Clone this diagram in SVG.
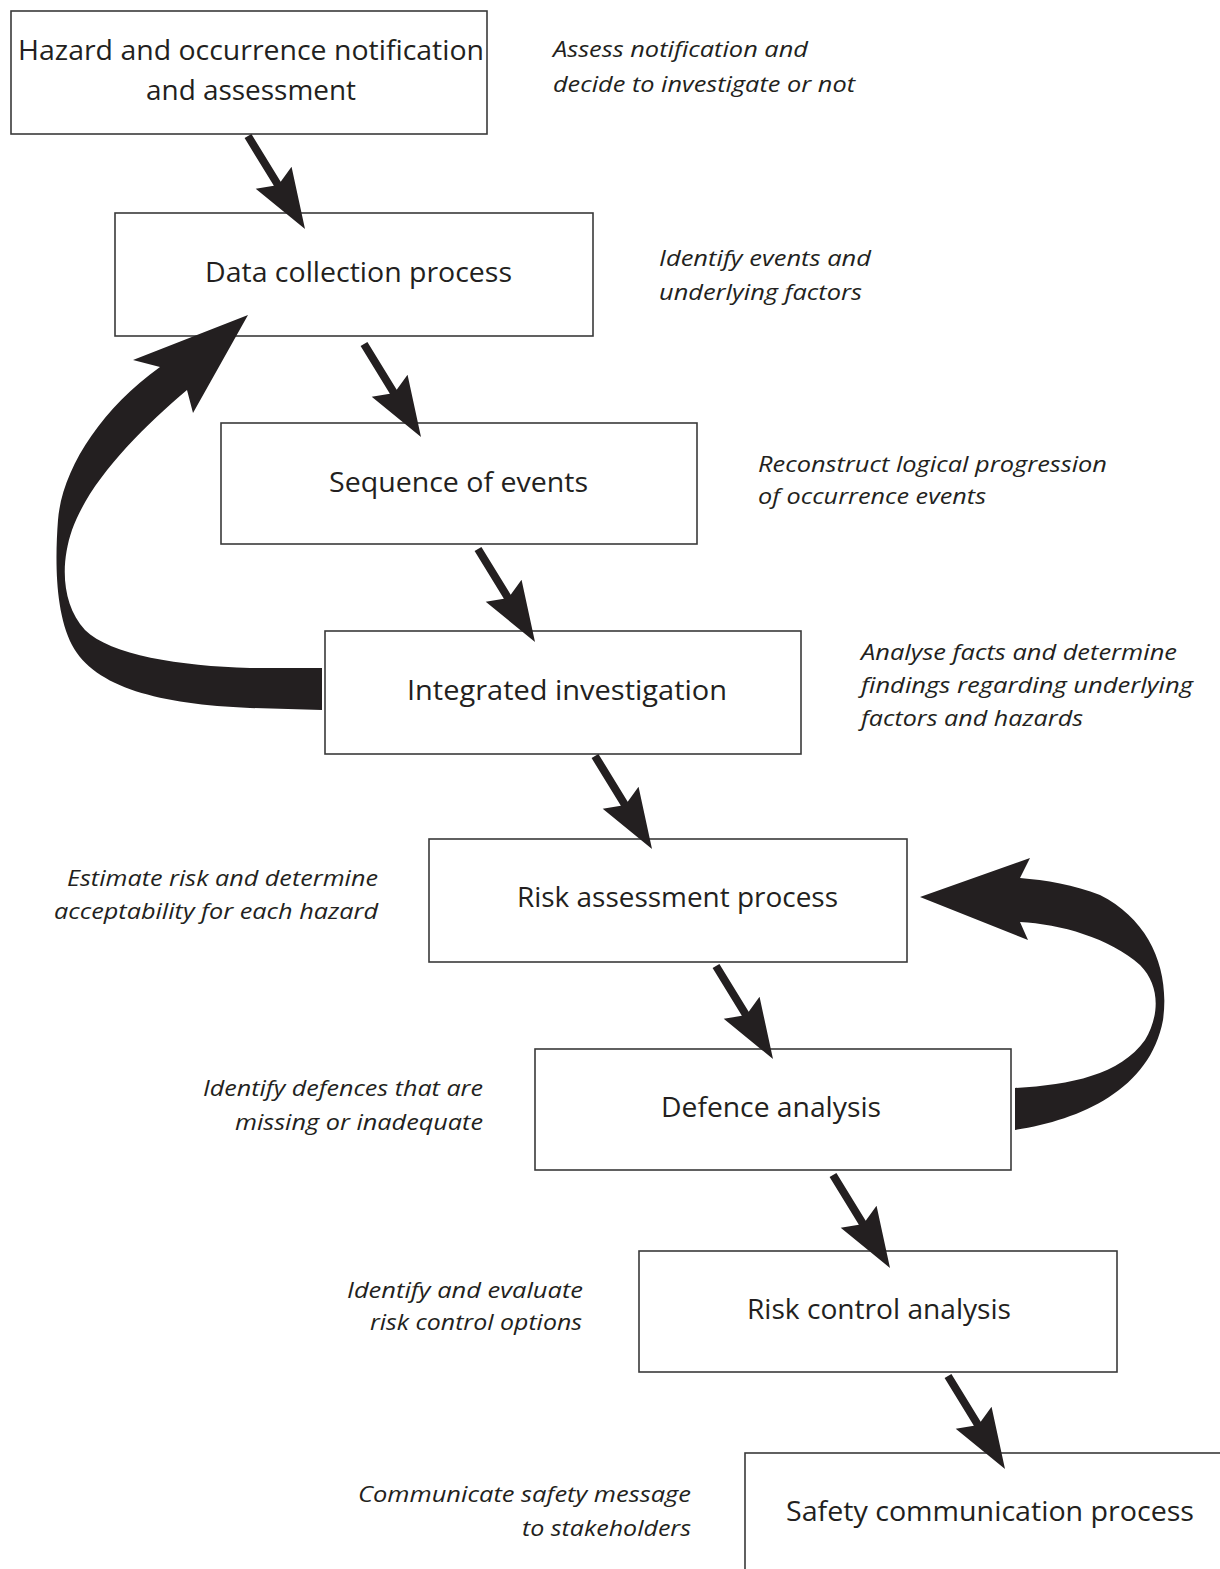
<svg xmlns="http://www.w3.org/2000/svg" xmlns:xlink="http://www.w3.org/1999/xlink" width="1220" height="1569" viewBox="0 0 1220 1569">
<style>
.box{fill:#fff;stroke:#3a3a3a;stroke-width:1.6}
.nt{font-family:"Open Sans","Noto Sans",sans-serif;font-size:27px;fill:#231f20}
.it{font-family:"Open Sans","Noto Sans",sans-serif;font-style:italic;font-size:22px;fill:#231f20}
.blk{fill:#231f20}
</style>
<defs>
<path id="arr" d="M-3.41,2.09 L25.88,49.86 L7.72,52.78 L57,93 L43.54,30.82 L32.7,45.68 L3.41,-2.09 Z"/>
</defs>
<rect width="1220" height="1569" fill="#fff"/>
<g id="n1"><rect class="box" x="11" y="11" width="476" height="123"/>
<text class="nt" x="18" y="60" textLength="466" lengthAdjust="spacingAndGlyphs">Hazard and occurrence notification</text>
<text class="nt" x="146" y="100" textLength="210" lengthAdjust="spacingAndGlyphs">and assessment</text></g>
<g id="n2"><rect class="box" x="115" y="213" width="478" height="123"/>
<text class="nt" x="205" y="282" textLength="307" lengthAdjust="spacingAndGlyphs">Data collection process</text></g>
<g id="n3"><rect class="box" x="221" y="423" width="476" height="121"/>
<text class="nt" x="329" y="492" textLength="259" lengthAdjust="spacingAndGlyphs">Sequence of events</text></g>
<g id="n4"><rect class="box" x="325" y="631" width="476" height="123"/>
<text class="nt" x="407" y="700" textLength="320" lengthAdjust="spacingAndGlyphs">Integrated investigation</text></g>
<g id="n5"><rect class="box" x="429" y="839" width="478" height="123"/>
<text class="nt" x="517" y="907" textLength="321" lengthAdjust="spacingAndGlyphs">Risk assessment process</text></g>
<g id="n6"><rect class="box" x="535" y="1049" width="476" height="121"/>
<text class="nt" x="661" y="1117" textLength="220" lengthAdjust="spacingAndGlyphs">Defence analysis</text></g>
<g id="n7"><rect class="box" x="639" y="1251" width="478" height="121"/>
<text class="nt" x="747" y="1319" textLength="264" lengthAdjust="spacingAndGlyphs">Risk control analysis</text></g>
<g id="n8"><rect class="box" x="745" y="1453" width="480" height="130"/>
<text class="nt" x="786" y="1521" textLength="408" lengthAdjust="spacingAndGlyphs">Safety communication process</text></g>
<g id="notes">
<text class="it" x="553" y="57" textLength="255" lengthAdjust="spacingAndGlyphs">Assess notification and</text>
<text class="it" x="553" y="92" textLength="302" lengthAdjust="spacingAndGlyphs">decide to investigate or not</text>
<text class="it" x="659" y="266" textLength="212" lengthAdjust="spacingAndGlyphs">Identify events and</text>
<text class="it" x="659" y="300" textLength="203" lengthAdjust="spacingAndGlyphs">underlying factors</text>
<text class="it" x="758" y="472" textLength="349" lengthAdjust="spacingAndGlyphs">Reconstruct logical progression</text>
<text class="it" x="758" y="504" textLength="228" lengthAdjust="spacingAndGlyphs">of occurrence events</text>
<text class="it" x="861" y="660" textLength="316" lengthAdjust="spacingAndGlyphs">Analyse facts and determine</text>
<text class="it" x="861" y="693" textLength="332" lengthAdjust="spacingAndGlyphs">findings regarding underlying</text>
<text class="it" x="861" y="726" textLength="222" lengthAdjust="spacingAndGlyphs">factors and hazards</text>
<text class="it" x="67" y="886" textLength="311" lengthAdjust="spacingAndGlyphs">Estimate risk and determine</text>
<text class="it" x="54" y="919" textLength="324" lengthAdjust="spacingAndGlyphs">acceptability for each hazard</text>
<text class="it" x="203" y="1096" textLength="280" lengthAdjust="spacingAndGlyphs">Identify defences that are</text>
<text class="it" x="235" y="1130" textLength="248" lengthAdjust="spacingAndGlyphs">missing or inadequate</text>
<text class="it" x="347" y="1298" textLength="236" lengthAdjust="spacingAndGlyphs">Identify and evaluate</text>
<text class="it" x="370" y="1330" textLength="212" lengthAdjust="spacingAndGlyphs">risk control options</text>
<text class="it" x="358" y="1502" textLength="333" lengthAdjust="spacingAndGlyphs">Communicate safety message</text>
<text class="it" x="522" y="1536" textLength="169" lengthAdjust="spacingAndGlyphs">to stakeholders</text>
</g>
<g id="connectors" class="blk">
<use xlink:href="#arr" href="#arr" transform="translate(248,136)"/>
<use xlink:href="#arr" href="#arr" transform="translate(364,344)"/>
<use xlink:href="#arr" href="#arr" transform="translate(478,549)"/>
<use xlink:href="#arr" href="#arr" transform="translate(595,756)"/>
<use xlink:href="#arr" href="#arr" transform="translate(716,966)"/>
<use xlink:href="#arr" href="#arr" transform="translate(833,1175)"/>
<use xlink:href="#arr" href="#arr" transform="translate(948,1376)"/>
<path d="M322,710 L250,708 C160,704 95,688 72,645 C55,612 55,560 58,520 C62,470 100,410 160,367 L133,360 L248,315 L193,413 L187,390 C140,430 90,480 72,530 C60,565 62,605 85,630 C110,655 180,666 250,668 L322,668 Z"/>
<path d="M1015,1130 C1080,1120 1150,1090 1163,1020 C1170,970 1150,920 1100,895 C1075,885 1045,880 1020,878 L1030,858 L920,897 L1028,940 L1020,922 C1060,924 1110,938 1140,965 C1160,985 1160,1015 1145,1040 C1120,1075 1070,1085 1015,1088 Z"/>
</g>
</svg>
